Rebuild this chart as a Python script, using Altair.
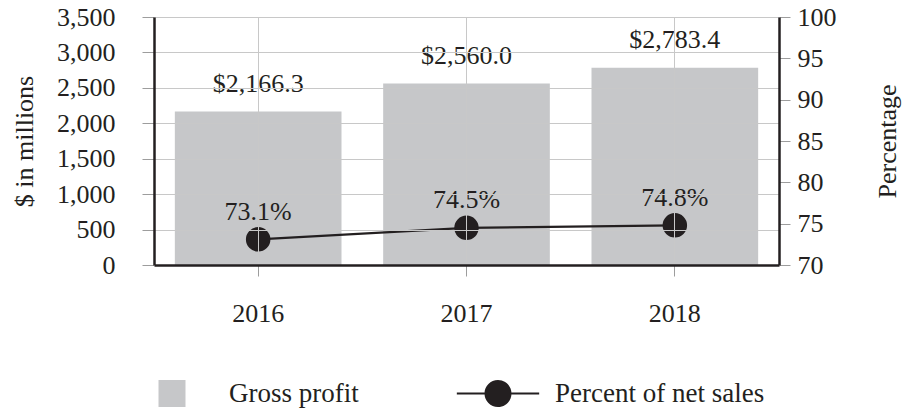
import altair as alt
import pandas as pd

years = ["2016", "2017", "2018"]
gross_profit = [2166.3, 2560.0, 2783.4]
pct_net_sales = [73.1, 74.5, 74.8]
left_ticks = [0, 500, 1000, 1500, 2000, 2500, 3000, 3500]
right_ticks = [70, 75, 80, 85, 90, 95, 100]
series = ["Gross profit", "Percent of net sales"]

FONT = "Liberation Serif"
INK = "#231f20"
BAR = "#c6c7c9"
GRID = "#c8c8c8"
TICK = "#9d9d9d"

SQUARE = "M-1,-1H1V1H-1Z"
LINEDOT = ("M-3.05,-0.075H3.05V0.075H-3.05Z "
           "M1,0A1,1 0 1,1 -1,0A1,1 0 1,1 1,0Z")

df = pd.DataFrame({"year": years, "gross": gross_profit, "pct": pct_net_sales})
leg = pd.DataFrame({"series": series})

x_enc = alt.X(
    "year:N",
    sort=years,
    scale=alt.Scale(paddingInner=0.2, paddingOuter=0.1),
    axis=alt.Axis(
        title=None, labelAngle=0, grid=True, gridColor=GRID, gridWidth=1,
        domainColor=INK, domainWidth=2.5, tickColor=TICK, tickSize=11,
        tickWidth=1, labelPadding=24, labelFont=FONT, labelFontSize=26,
        labelColor=INK, zindex=1,
    ),
)

y_left = alt.Y(
    "gross:Q",
    scale=alt.Scale(domain=[0, 3500], nice=False, zero=True),
    axis=alt.Axis(
        values=left_ticks, format=",.0f", title="$ in millions", orient="left",
        grid=True, gridColor=GRID, gridWidth=1, domainColor=INK,
        domainWidth=2.5, tickColor=TICK, tickSize=12, tickWidth=1,
        labelPadding=27, labelFont=FONT, labelFontSize=26, labelColor=INK,
        titleFont=FONT, titleFontSize=26, titleFontWeight="normal",
        titleColor=INK, titlePadding=19, zindex=1,
    ),
)

y_right = alt.Y(
    "pct:Q",
    scale=alt.Scale(domain=[70, 100], nice=False, zero=False),
    axis=alt.Axis(
        values=right_ticks, title="Percentage", orient="right", grid=False,
        domainColor=INK, domainWidth=2.5, tickColor=TICK, tickSize=11,
        tickWidth=1, labelPadding=7, labelFont=FONT, labelFontSize=26,
        labelColor=INK, titleFont=FONT, titleFontSize=26,
        titleFontWeight="normal", titleColor=INK, titleAngle=270,
        titlePadding=64, zindex=1,
    ),
)

bars = alt.Chart(df).mark_bar(color=BAR)
bar_text = alt.Chart(df).mark_text(
    dy=-19.5, baseline="alphabetic", font=FONT, fontSize=26, color=INK
).encode(text=alt.Text("gross:Q", format="$,.1f"))
left = alt.layer(bars, bar_text).encode(x=x_enc, y=y_left)

line = alt.Chart(df).mark_line(color=INK, strokeWidth=2.2)
points = alt.Chart(df).mark_point(
    filled=True, shape="circle", size=600, color=INK, opacity=1
)
pct_text = alt.Chart(df).transform_calculate(
    label="format(datum.pct, '.1f') + '%'"
).mark_text(
    dy=-19.5, baseline="alphabetic", font=FONT, fontSize=26, color=INK
).encode(text="label:N")
right = alt.layer(line, points, pct_text).encode(x=x_enc, y=y_right)

legend = alt.Legend(
    title=None, orient="none", legendX=4.5, legendY=363,
    direction="horizontal", symbolSize=729, symbolStrokeWidth=0,
    labelFont=FONT, labelFontSize=27, labelColor=INK, labelOffset=43.5,
    labelLimit=500, columnPadding=97, padding=0,
)
legend_layer = alt.Chart(leg).transform_filter("false").mark_point(
    filled=True, opacity=1
).encode(
    color=alt.Color("series:N", scale=alt.Scale(domain=series, range=[BAR, INK]), legend=legend),
    shape=alt.Shape("series:N", scale=alt.Scale(domain=series, range=[SQUARE, LINEDOT]), legend=legend),
)

chart = alt.layer(left, right, legend_layer).resolve_scale(
    y="independent"
).properties(
    width=625, height=248,
    autosize=alt.AutoSizeParams(type="none"),
    padding={"left": 154, "top": 17, "right": 123, "bottom": 145},
    background="white",
).configure_view(stroke=None)

chart.save("out.html", embed_options={"renderer": "svg", "actions": False})
